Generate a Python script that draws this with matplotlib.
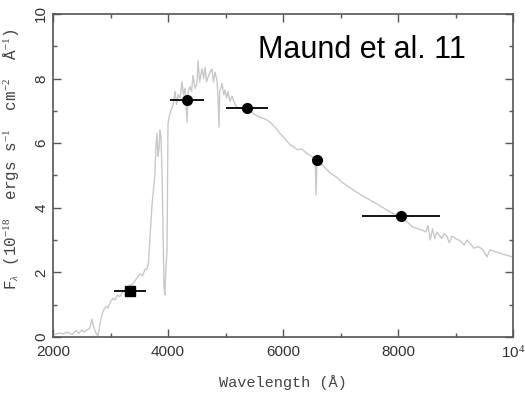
import matplotlib
matplotlib.use("Agg")
import matplotlib.pyplot as plt
from matplotlib.ticker import MultipleLocator, FixedLocator, FixedFormatter

plt.rcParams['mathtext.fontset'] = 'custom'
plt.rcParams['mathtext.rm'] = 'Liberation Serif'
plt.rcParams['mathtext.it'] = 'Liberation Serif:italic'

# model spectrum (wavelength in A, flux in 1e-18 erg/s/cm2/A)
spec_wave = [2040, 2100, 2180, 2250, 2330, 2400, 2450, 2500, 2540, 2580, 2640, 2678,
             2700, 2740, 2783, 2820, 2870, 2920, 2960, 3000, 3043, 3080, 3120, 3160,
             3200, 3240, 3290, 3330, 3374, 3410, 3450, 3513, 3560, 3600, 3635, 3660,
             3687, 3722, 3750, 3774, 3790, 3809, 3825, 3843, 3860, 3878, 3896, 3912,
             3930, 3945, 3960, 3983, 4000, 4030, 4070, 4100, 4122, 4150, 4174, 4210,
             4243, 4270, 4296, 4315, 4330, 4350, 4383, 4410, 4435, 4470, 4504, 4522,
             4550, 4591, 4620, 4643, 4670, 4696, 4730, 4765, 4790, 4817, 4852, 4870,
             4887, 4900, 4939, 4970, 4991, 5020, 5043, 5078, 5113, 5165, 5210, 5252,
             5300, 5374, 5426, 5500, 5600, 5690, 5774, 5860, 5948, 6030, 6122, 6180,
             6243, 6330, 6400, 6470, 6540, 6560, 6575, 6591, 6700, 6817, 6930, 7043,
             7165, 7304, 7400, 7513, 7700, 7861, 8070, 8261, 8435, 8480, 8522, 8560,
             8600, 8640, 8678, 8720, 8760, 8800, 8852, 8890, 8940, 9000, 9078, 9150,
             9200, 9252, 9320, 9400, 9480, 9548, 9600, 9722, 9850, 9990]
spec_flux = [0.08, 0.12, 0.10, 0.15, 0.08, 0.20, 0.12, 0.22, 0.15, 0.20, 0.28, 0.55,
             0.35, 0.15, 0.02, 0.45, 0.80, 0.95, 0.90, 1.10, 1.20, 1.15, 1.30, 1.25,
             1.36, 1.45, 1.40, 1.60, 1.62, 1.70, 1.80, 1.95, 1.90, 2.10, 2.10, 2.30,
             3.10, 4.10, 4.60, 5.05, 5.90, 6.30, 5.60, 5.80, 6.40, 6.20, 5.10, 3.50,
             1.60, 1.30, 2.00, 2.70, 6.60, 6.90, 7.10, 7.30, 7.60, 7.20, 7.50, 7.40,
             7.90, 7.50, 7.70, 7.20, 6.65, 7.60, 7.75, 7.60, 8.10, 7.70, 7.85, 8.55,
             7.90, 8.30, 8.00, 8.35, 7.90, 8.05, 8.20, 8.30, 7.90, 8.20, 7.95, 7.40,
             6.50, 7.60, 7.85, 7.50, 7.65, 7.40, 7.60, 7.30, 7.45, 7.20, 7.10, 7.10,
             7.05, 7.00, 7.00, 6.90, 6.80, 6.75, 6.65, 6.50, 6.30, 6.15, 5.95, 5.90,
             5.80, 5.82, 5.70, 5.63, 5.55, 5.50, 4.40, 5.48, 5.30, 5.08, 4.95, 4.77,
             4.62, 4.46, 4.35, 4.24, 4.05, 3.87, 3.70, 3.40, 3.30, 3.25, 3.45, 3.00,
             3.35, 3.05, 3.25, 3.15, 3.05, 3.20, 3.12, 2.92, 3.12, 3.05, 2.98, 2.85,
             3.00, 2.90, 2.75, 2.80, 2.70, 2.48, 2.70, 2.62, 2.55, 2.48]

# photometry
phot_wave = [4330, 5374, 6591, 8052]
phot_flux = [7.34, 7.08, 5.48, 3.75]
phot_xerr = [300, 370, 0, 680]
phot_yerr = [0.1, 0.1, 0.12, 0.05]

uv_wave = [3339]
uv_flux = [1.43]
uv_xerr = [270]
uv_yerr = [0.1]

fig = plt.figure(figsize=(5.25, 3.95), dpi=100)
ax = fig.add_axes([53 / 525, 58 / 395, 460 / 525, 323 / 395])

ax.plot(spec_wave, spec_flux, color='#c8c8c8', lw=1.0, zorder=1)
ax.errorbar(phot_wave, phot_flux, xerr=phot_xerr, yerr=phot_yerr, fmt='o',
            color='black', ms=7, elinewidth=1.3, capsize=0, zorder=3)
ax.errorbar(uv_wave, uv_flux, xerr=uv_xerr, yerr=uv_yerr, fmt='s',
            color='black', ms=6.5, elinewidth=1.3, capsize=0, zorder=3)

ax.set_xlim(2000, 10000)
ax.set_ylim(0, 10)

ax.xaxis.set_major_locator(FixedLocator([2000, 4000, 6000, 8000, 10000]))
ax.xaxis.set_major_formatter(FixedFormatter(['2000', '4000', '6000', '8000', '10$^4$']))
ax.xaxis.set_minor_locator(MultipleLocator(1000))
ax.yaxis.set_major_locator(MultipleLocator(2))
ax.yaxis.set_minor_locator(MultipleLocator(1))

ax.tick_params(which='both', direction='in', top=True, right=True,
               color='#555555', width=1.0)
ax.tick_params(which='major', length=6, labelsize=11, labelcolor='#333333')
ax.tick_params(axis='x', which='major', pad=6)
ax.tick_params(which='minor', length=3)
for lab in ax.get_yticklabels():
    lab.set_rotation(90)
    lab.set_va('center')
for lab in ax.get_xticklabels() + ax.get_yticklabels():
    lab.set_family('Liberation Sans')
for sp in ax.spines.values():
    sp.set_color('#555555')
    sp.set_linewidth(1.2)

ax.set_xlabel('Wavelength (Å)', family='Liberation Mono', fontsize=11,
              color='#444444', labelpad=10)
ax.set_ylabel(r'F$_\lambda$ (10$^{-18}$  ergs s$^{-1}$  cm$^{-2}$  Å$^{-1}$)',
              family='Liberation Mono', fontsize=11.5, color='#444444')
ax.yaxis.set_label_coords(-31 / 460, 0.55)

ax.text(5565, 8.88, 'Maund et al. 11', family='Liberation Sans', fontsize=22,
        va='center', ha='left', color='black')

fig.savefig('out.png', dpi=100)
